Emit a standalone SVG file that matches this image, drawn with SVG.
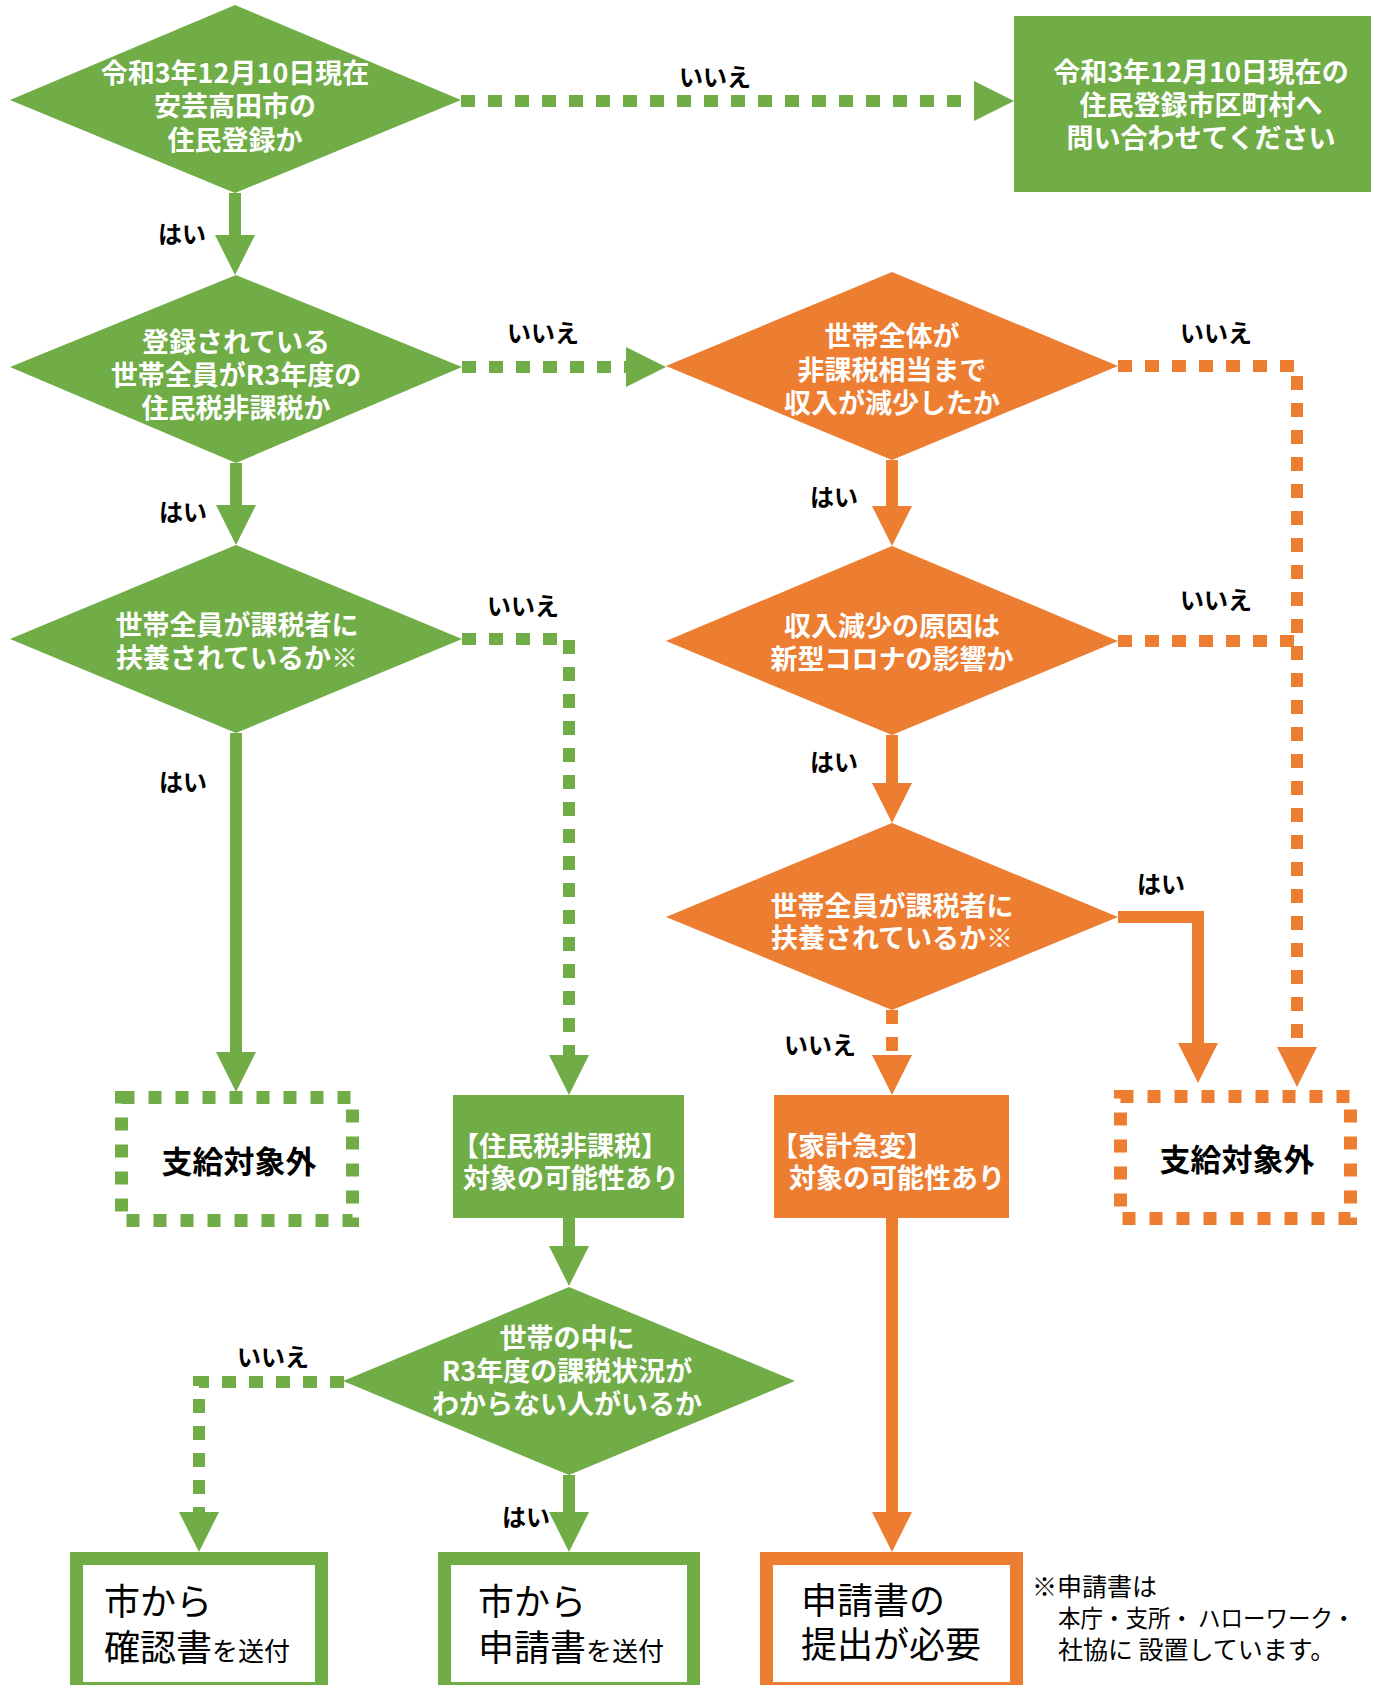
<svg xmlns="http://www.w3.org/2000/svg" width="1381" height="1685" viewBox="0 0 1381 1685">
<defs>
<style>
.g{fill:#70AD47}
.o{fill:#ED7D31}
.t{font-family:"Noto Sans CJK JP","Noto Sans",sans-serif;font-weight:bold;fill:#fff;font-size:27px;text-anchor:middle}
.lb{font-family:"Noto Sans CJK JP","Noto Sans",sans-serif;font-weight:bold;fill:#000;font-size:24px;text-anchor:middle}
.nx{font-family:"Noto Sans CJK JP","Noto Sans",sans-serif;font-weight:bold;fill:#000;font-size:31px;text-anchor:middle}
.big{font-family:"Noto Sans CJK JP","Noto Sans",sans-serif;fill:#000;font-size:36px}
.sm{font-size:26px}
.note{font-family:"Noto Sans CJK JP","Noto Sans",sans-serif;fill:#000;font-size:25px}
.sg{stroke:#70AD47;fill:none;stroke-width:12}
.so{stroke:#ED7D31;fill:none;stroke-width:12}
.d{stroke-dasharray:14 13}
.db{stroke-dasharray:13 14;stroke-width:13}
.fb{fill:#fff;stroke-width:13}
</style>
<marker id="ag" markerUnits="userSpaceOnUse" viewBox="0 0 40 40" markerWidth="40" markerHeight="40" refX="0" refY="20" orient="auto"><path d="M0,0 L40,20 L0,40 Z" fill="#70AD47"/></marker>
<marker id="ao" markerUnits="userSpaceOnUse" viewBox="0 0 40 40" markerWidth="40" markerHeight="40" refX="0" refY="20" orient="auto"><path d="M0,0 L40,20 L0,40 Z" fill="#ED7D31"/></marker>
</defs>
<rect width="1381" height="1685" fill="#fff"/>

<g id="connectors">
<path class="sg d" d="M461,101 H974" marker-end="url(#ag)"/>
<path class="sg" d="M235,193 V235" marker-end="url(#ag)"/>
<path class="sg d" d="M462,367 H626" marker-end="url(#ag)"/>
<path class="sg" d="M236,463 V505" marker-end="url(#ag)"/>
<path class="sg d" d="M462,639 H569 V1055" marker-end="url(#ag)"/>
<path class="sg" d="M236,733 V1052" marker-end="url(#ag)"/>
<path class="sg" d="M569,1218 V1246" marker-end="url(#ag)"/>
<path class="sg d" d="M344,1382 H199 V1512" marker-end="url(#ag)"/>
<path class="sg" d="M569,1475 V1512" marker-end="url(#ag)"/>
<path class="so d" d="M1118,366 H1297 V1047" marker-end="url(#ao)"/>
<path class="so d" d="M1118,641 H1297"/>
<path class="so" d="M892,460 V506" marker-end="url(#ao)"/>
<path class="so" d="M892,735 V783" marker-end="url(#ao)"/>
<path class="so" d="M1118,917 H1198 V1043" marker-end="url(#ao)"/>
<path class="so d" d="M892,1010 V1055" marker-end="url(#ao)"/>
<path class="so" d="M892,1218 V1512" marker-end="url(#ao)"/>
<text class="lb" x="715" y="86">いいえ</text>
<text class="lb" x="182" y="243">はい</text>
<text class="lb" x="543" y="342">いいえ</text>
<text class="lb" x="1216" y="342">いいえ</text>
<text class="lb" x="183" y="521">はい</text>
<text class="lb" x="834" y="506">はい</text>
<text class="lb" x="523" y="615">いいえ</text>
<text class="lb" x="1216" y="609">いいえ</text>
<text class="lb" x="183" y="791">はい</text>
<text class="lb" x="834" y="771">はい</text>
<text class="lb" x="1161" y="893">はい</text>
<text class="lb" x="820" y="1054">いいえ</text>
<text class="lb" x="273" y="1366">いいえ</text>
<text class="lb" x="526" y="1526">はい</text>
</g>

<g id="q1">
<polygon class="g" points="235,5 461,100 235,193 10,100"/>
<text class="t" x="235" y="83">令和3年12月10日現在</text>
<text class="t" x="235" y="116">安芸高田市の</text>
<text class="t" x="235" y="150">住民登録か</text>
</g>
<g id="contact">
<rect class="g" x="1014" y="16" width="357" height="176"/>
<text class="t" x="1201" y="82">令和3年12月10日現在の</text>
<text class="t" x="1201" y="115">住民登録市区町村へ</text>
<text class="t" x="1201" y="148">問い合わせてください</text>
</g>
<g id="q2">
<polygon class="g" points="236,275 462,367 236,463 10,367"/>
<text class="t" x="236" y="352">登録されている</text>
<text class="t" x="236" y="385">世帯全員がR3年度の</text>
<text class="t" x="236" y="418">住民税非課税か</text>
</g>
<g id="q3">
<polygon class="o" points="892,272 1118,366 892,460 666,366"/>
<text class="t" x="892" y="346">世帯全体が</text>
<text class="t" x="892" y="380">非課税相当まで</text>
<text class="t" x="892" y="413">収入が減少したか</text>
</g>
<g id="q4">
<polygon class="g" points="236,545 462,639 236,733 10,639"/>
<text class="t" x="237" y="635">世帯全員が課税者に</text>
<text class="t" x="237" y="668">扶養されているか※</text>
</g>
<g id="q5">
<polygon class="o" points="892,546 1118,641 892,735 666,641"/>
<text class="t" x="892" y="636">収入減少の原因は</text>
<text class="t" x="892" y="669">新型コロナの影響か</text>
</g>
<g id="q6">
<polygon class="o" points="892,823 1118,917 892,1010 666,917"/>
<text class="t" x="892" y="916">世帯全員が課税者に</text>
<text class="t" x="892" y="948">扶養されているか※</text>
</g>
<g id="out1">
<rect class="sg db" x="121.5" y="1097.5" width="231" height="123" fill="#fff"/>
<text class="nx" x="239" y="1173">支給対象外</text>
</g>
<g id="out2">
<rect class="so db" x="1120.5" y="1096.5" width="230" height="122" fill="#fff"/>
<text class="nx" x="1237" y="1171">支給対象外</text>
</g>
<g id="p1">
<rect class="g" x="453" y="1095" width="231" height="123"/>
<text class="t" x="560" y="1156">【住民税非課税】</text>
<text class="t" x="571" y="1188">対象の可能性あり</text>
</g>
<g id="p2">
<rect class="o" x="774" y="1095" width="235" height="123"/>
<text class="t" x="852" y="1156">【家計急変】</text>
<text class="t" x="897" y="1188">対象の可能性あり</text>
</g>
<g id="q7">
<polygon class="g" points="569,1287 795,1381 569,1475 343,1381"/>
<text class="t" x="567" y="1348">世帯の中に</text>
<text class="t" x="567" y="1381">R3年度の課税状況が</text>
<text class="t" x="567" y="1414">わからない人がいるか</text>
</g>
<g id="r1">
<rect class="sg fb" x="76.5" y="1558.5" width="245" height="130"/>
<text class="big" x="104" y="1615">市から</text>
<text class="big" x="104" y="1661">確認書<tspan class="sm">を送付</tspan></text>
</g>
<g id="r2">
<rect class="sg fb" x="444.5" y="1558.5" width="249" height="130"/>
<text class="big" x="478" y="1615">市から</text>
<text class="big" x="478" y="1661">申請書<tspan class="sm">を送付</tspan></text>
</g>
<g id="r3">
<rect class="so fb" x="766.5" y="1558.5" width="250" height="130"/>
<text class="big" x="801" y="1614">申請書の</text>
<text class="big" x="801" y="1658">提出が必要</text>
</g>
<g id="footnote">
<text class="note" x="1032" y="1596">※申請書は</text>
<text class="note" x="1058" y="1627" style="font-size:23.5px" textLength="297" lengthAdjust="spacingAndGlyphs">本庁・支所・ ハローワーク・</text>
<text class="note" x="1058" y="1659">社協に 設置しています。</text>
</g>
</svg>
